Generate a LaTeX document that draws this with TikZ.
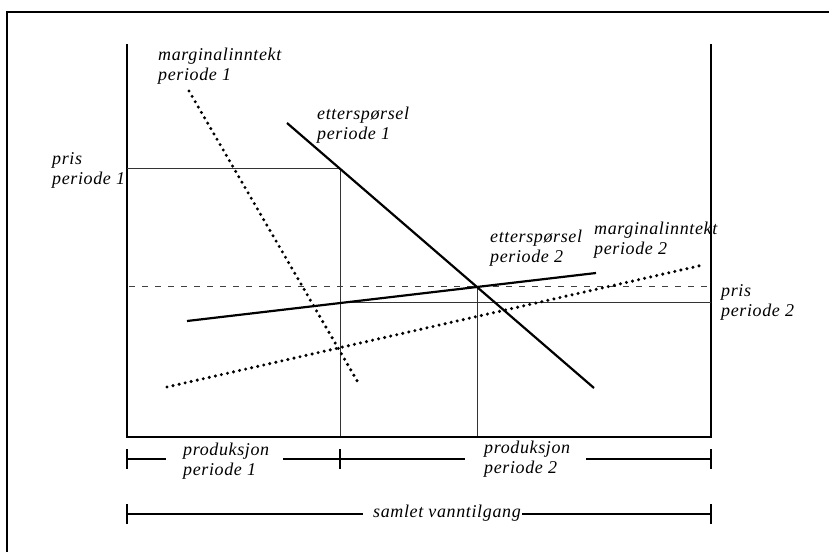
\documentclass[tikz,border=0pt]{standalone}
\usepackage{fontspec}
\setmainfont{Liberation Serif}[LetterSpace=3.5]
\begin{document}
\begin{tikzpicture}[x=1pt,y=-1pt,
  lbl/.style={anchor=base west,align=left,inner sep=0pt,font=\fontsize{18}{19.5}\selectfont\itshape},
  axisln/.style={line width=2.2pt},
  curveln/.style={line width=2.2pt},
  dotcurve/.style={line width=3.4pt,line cap=round,dash pattern=on 0pt off 6.2pt},
  thinln/.style={line width=0.9pt,black!80},
  dashln/.style={line width=0.9pt,black!75,dash pattern=on 6pt off 7pt},
  barln/.style={line width=1.8pt},
  tickln/.style={line width=2.8pt}]
\useasboundingbox (0,0) rectangle (829,552);
% frame
\draw[line width=2.6pt] (7,552) -- (7,12) -- (829,12);
% axes
\coordinate (lt) at (127,44);
\coordinate (lb) at (127,437);
\coordinate (rt) at (711,44);
\coordinate (rb) at (711,437);
\draw[axisln] (lt) -- (lb) -- (rb) -- (rt);
% helper lines
\coordinate (q1) at (340,436);
\coordinate (p1) at (340,168);
\coordinate (p1l) at (127,168);
\draw[thinln] (p1l) -- (p1) -- (q1);
\coordinate (q2) at (477,436);
\coordinate (p2) at (477,286);
\draw[thinln] (p2) -- (q2);
\coordinate (dl) at (129,286);
\coordinate (dr) at (711,286);
\draw[dashln] (dl) -- (dr);
\coordinate (hl) at (340,302);
\coordinate (hr) at (711,302);
\draw[thinln] (hl) -- (hr);
% curves
\coordinate (d1a) at (287,123);
\coordinate (d1b) at (594,388);
\draw[curveln] (d1a) -- (d1b);
\coordinate (d2a) at (187,321);
\coordinate (d2b) at (596,273);
\draw[curveln] (d2a) -- (d2b);
\coordinate (m1a) at (189,91);
\coordinate (m1b) at (359,384);
\draw[dotcurve] (m1a) -- (m1b);
\coordinate (m2a) at (167,387);
\coordinate (m2b) at (703,265);
\draw[dotcurve] (m2a) -- (m2b);
% labels (anchor = baseline of last line)
\node[lbl] (tm1) at (158,80) {marginalinntekt\\periode 1};
\node[lbl] (te1) at (317,139) {etterspørsel\\periode 1};
\node[lbl] (tp1) at (52,184) {pris\\periode 1};
\node[lbl] (te2) at (490,262) {etterspørsel\\periode 2};
\node[lbl] (tm2) at (594,254) {marginalinntekt\\periode 2};
\node[lbl] (tp2) at (721,316) {pris\\periode 2};
\node[lbl] (tq1) at (183,475) {produksjon\\periode 1};
\node[lbl] (tq2) at (484,473) {produksjon\\periode 2};
\node[lbl] (ts) at (373,517) {samlet vanntilgang};
% production bars
\coordinate (b0) at (127,459);
\coordinate (b1) at (166,459);
\coordinate (b2) at (283,459);
\coordinate (b3) at (340,459);
\coordinate (b4) at (465,459);
\coordinate (b5) at (586,459);
\coordinate (b6) at (711,459);
\draw[barln] (b0) -- (b1) (b2) -- (b3) -- (b4) (b5) -- (b6);
\draw[tickln] (127,449) -- (127,469) (340,449) -- (340,469) (711,449) -- (711,469);
% total bar
\coordinate (s0) at (127,514);
\coordinate (s1) at (363,514);
\coordinate (s2) at (522,514);
\coordinate (s3) at (711,514);
\draw[barln] (s0) -- (s1) (s2) -- (s3);
\draw[tickln] (127,504) -- (127,524) (711,504) -- (711,524);
\end{tikzpicture}
\end{document}
